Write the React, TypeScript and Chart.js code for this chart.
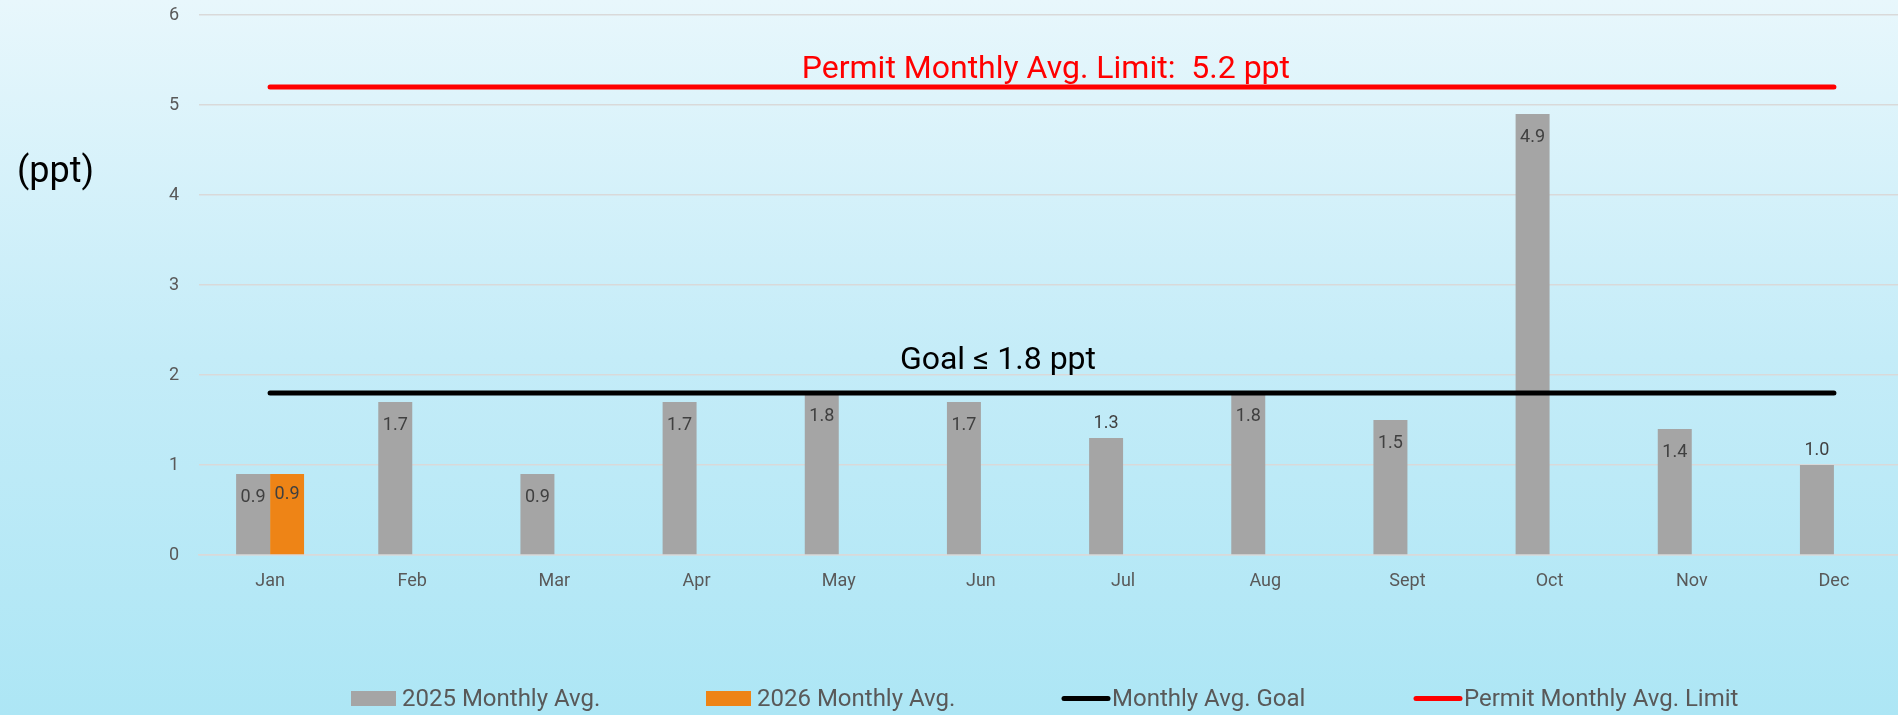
import React, { useEffect, useRef } from "react";
import { Chart, registerables } from "chart.js";

Chart.register(...registerables);

const MONTHS = ["Jan", "Feb", "Mar", "Apr", "May", "Jun", "Jul", "Aug", "Sept", "Oct", "Nov", "Dec"];
const AVG_2025 = [0.9, 1.7, 0.9, 1.7, 1.8, 1.7, 1.3, 1.8, 1.5, 4.9, 1.4, 1.0];
const AVG_2026 = [0.9, null, null, null, null, null, null, null, null, null, null, null];
const GOAL_LINE = [1.8, 1.8, 1.8, 1.8, 1.8, 1.8, 1.8, 1.8, 1.8, 1.8, 1.8, 1.8];
const LIMIT_LINE = [5.2, 5.2, 5.2, 5.2, 5.2, 5.2, 5.2, 5.2, 5.2, 5.2, 5.2, 5.2];
const Y_MIN = 0;
const Y_MAX = 6;
const Y_STEP = 1;
const GOAL = 1.8;
const LIMIT = 5.2;
const SERIES_NAMES = ["2025 Monthly Avg.", "2026 Monthly Avg.", "Monthly Avg. Goal", "Permit Monthly Avg. Limit"];
const LIMIT_TEXT = "Permit Monthly Avg. Limit:  5.2 ppt";
const GOAL_TEXT = "Goal \u2264 1.8 ppt";
const UNIT_TEXT = "(ppt)";
// 2025 points whose value label sits above the bar
const OUTSIDE_LABELS = [6, 11];

const GRAY = "#a5a5a5";
const ORANGE = "#ee8416";
const FONT = "Roboto, 'Noto Sans', sans-serif";

const barLabelsPlugin = {
  id: "barLabels",
  afterDatasetsDraw(chart: any) {
    const ctx = chart.ctx;
    ctx.save();
    ctx.font = `18px ${FONT}`;
    ctx.fillStyle = "#404040";
    ctx.textAlign = "center";
    ctx.textBaseline = "alphabetic";
    chart.data.datasets.forEach((ds: any, di: number) => {
      if (ds.type !== "bar") return;
      const meta = chart.getDatasetMeta(di);
      meta.data.forEach((el: any, i: number) => {
        const v = ds.data[i];
        if (v == null) return;
        const outside = di === 0 && OUTSIDE_LABELS.includes(i);
        const y = outside ? el.y - 10 : el.y + (di === 0 ? 28 : 25);
        ctx.fillText(v.toFixed(1), el.x, y);
      });
    });
    ctx.restore();
  },
};

const annotationsPlugin = {
  id: "annotations",
  afterDraw(chart: any) {
    const ctx = chart.ctx;
    const xs = chart.scales.x;
    const ys = chart.scales.y;
    ctx.save();
    ctx.textBaseline = "alphabetic";
    ctx.textAlign = "center";
    ctx.font = `32px ${FONT}`;
    ctx.fillStyle = "#ff0000";
    ctx.fillText(LIMIT_TEXT, xs.getPixelForValue(5.457), ys.getPixelForValue(LIMIT) - 9);
    ctx.fillStyle = "#000000";
    ctx.fillText(GOAL_TEXT, xs.getPixelForValue(5.12), ys.getPixelForValue(GOAL) - 24);
    ctx.textAlign = "left";
    ctx.font = `36px ${FONT}`;
    ctx.fillText(UNIT_TEXT, 17, 182);

    // legend
    const items = [
      { x: 351, kind: "box", color: GRAY },
      { x: 706, kind: "box", color: ORANGE },
      { x: 1062, kind: "line", color: "#000000" },
      { x: 1414, kind: "line", color: "#ff0000" },
    ];
    ctx.font = `24px ${FONT}`;
    items.forEach((it, i) => {
      if (it.kind === "box") {
        ctx.fillStyle = it.color;
        ctx.fillRect(it.x, 691, 45, 15);
        ctx.fillStyle = "#595959";
        ctx.fillText(SERIES_NAMES[i], it.x + 51, 706);
      } else {
        ctx.strokeStyle = it.color;
        ctx.lineWidth = 5;
        ctx.lineCap = "round";
        ctx.beginPath();
        ctx.moveTo(it.x + 2, 698.5);
        ctx.lineTo(it.x + 46, 698.5);
        ctx.stroke();
        ctx.fillStyle = "#595959";
        ctx.fillText(SERIES_NAMES[i], it.x + 50, 706);
      }
    });
    ctx.restore();
  },
};

export default function App() {
  const ref = useRef<HTMLCanvasElement | null>(null);

  useEffect(() => {
    if (!ref.current) return;
    const chart = new Chart(ref.current, {
      type: "bar",
      data: {
        labels: MONTHS,
        datasets: [
          {
            type: "bar",
            label: SERIES_NAMES[0],
            data: AVG_2025,
            backgroundColor: GRAY,
            categoryPercentage: 0.478,
            barPercentage: 1.0,
            order: 2,
          },
          {
            type: "bar",
            label: SERIES_NAMES[1],
            data: AVG_2026,
            backgroundColor: ORANGE,
            categoryPercentage: 0.478,
            barPercentage: 1.0,
            order: 2,
          },
          {
            type: "line",
            label: SERIES_NAMES[2],
            data: GOAL_LINE,
            borderColor: "#000000",
            borderWidth: 5,
            borderCapStyle: "round",
            pointRadius: 0,
            fill: false,
            order: 1,
          },
          {
            type: "line",
            label: SERIES_NAMES[3],
            data: LIMIT_LINE,
            borderColor: "#ff0000",
            borderWidth: 5,
            borderCapStyle: "round",
            pointRadius: 0,
            fill: false,
            order: 0,
          },
        ] as any,
      },
      options: {
        responsive: false,
        animation: false,
        layout: { padding: { top: 15, left: 0, right: 0, bottom: 0 } },
        plugins: {
          legend: { display: false },
          tooltip: { enabled: false },
        },
        scales: {
          x: {
            offset: true,
            grid: { display: false, drawTicks: false },
            border: { display: true, color: "#d9d9d9", width: 1.5 },
            ticks: {
              color: "#595959",
              font: { family: FONT, size: 18 },
              padding: 16,
              maxRotation: 0,
            },
            afterFit: (axis: any) => {
              axis.height = 160;
              axis.paddingLeft = 0;
              axis.paddingRight = 0;
            },
          },
          y: {
            min: Y_MIN,
            max: Y_MAX,
            grid: { color: "#d9d9d9", lineWidth: 1.5, drawTicks: false },
            border: { display: false },
            ticks: {
              stepSize: Y_STEP,
              color: "#595959",
              font: { family: FONT, size: 18 },
              padding: 20,
            },
            afterFit: (axis: any) => {
              axis.width = 199;
              axis.paddingTop = 0;
              axis.paddingBottom = 0;
            },
          },
        },
      } as any,
      plugins: [barLabelsPlugin, annotationsPlugin],
    });
    return () => chart.destroy();
  }, []);

  return (
    <div
      style={{
        position: "absolute",
        left: 0,
        top: 0,
        width: 1898,
        height: 715,
        overflow: "hidden",
        background: "linear-gradient(180deg, #e8f7fc 0%, #c4ecf8 50%, #ade6f5 100%)",
      }}
    >
      <canvas ref={ref} width={1905} height={715} style={{ display: "block", width: 1905, height: 715 }} />
    </div>
  );
}
